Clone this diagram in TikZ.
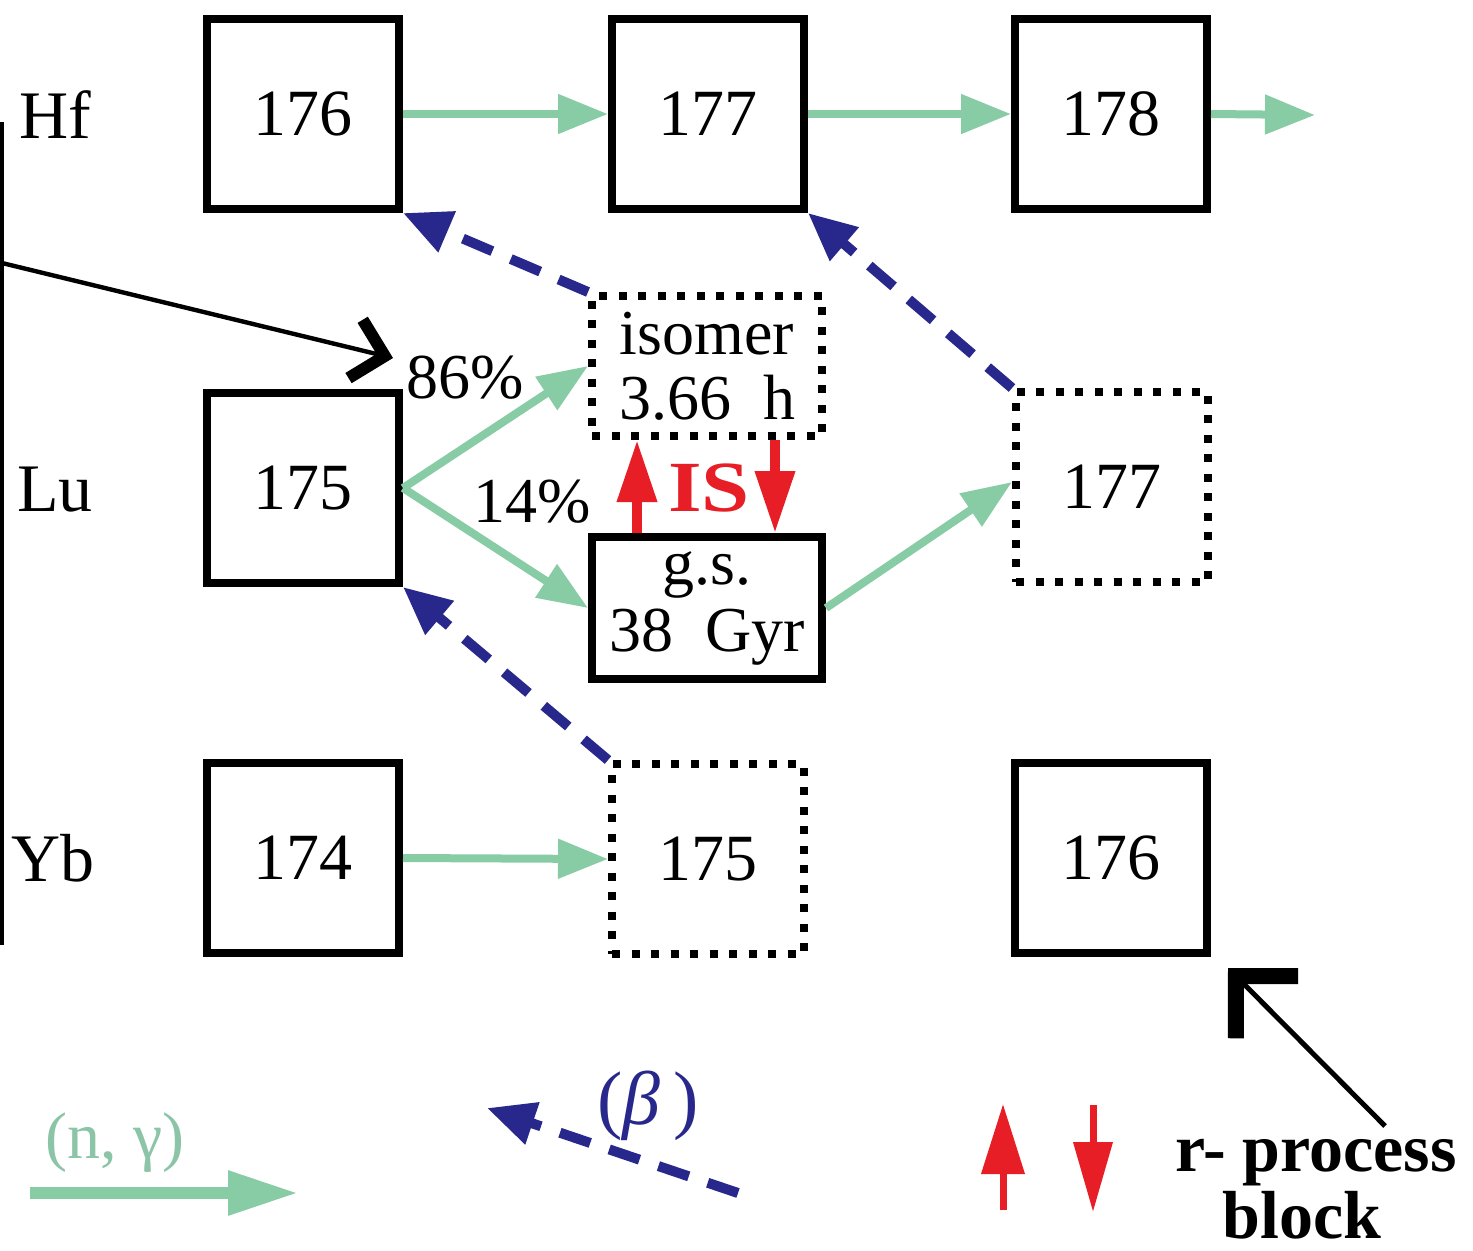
\documentclass[tikz,border=0pt]{standalone}
\usepackage{fontspec}
\setmainfont{Liberation Serif}
\usetikzlibrary{arrows.meta,calc}
\definecolor{ngreen}{RGB}{135,204,165}
\definecolor{ngtext}{RGB}{140,196,168}
\definecolor{bnavy}{RGB}{40,40,140}
\definecolor{isred}{RGB}{232,30,38}

\begin{document}
\begin{tikzpicture}[x=0.5pt,y=-0.5pt,
  nuc/.style={draw,line width=4pt,minimum width=96pt,minimum height=95pt,
    inner sep=0pt,font=\fontsize{33}{40}\selectfont},
  unstable/.style={nuc,line width=4pt,dash pattern=on 4pt off 5.75pt},
  elem/.style={font=\fontsize{34}{40}\selectfont},
  lbl/.style={font=\fontsize{32}{36}\selectfont},
  rlabel/.style={font=\fontsize{34}{38}\selectfont\bfseries,anchor=base,inner sep=0pt},
  ncap/.style={draw=ngreen,line width=4pt,-{Triangle[length=25pt,width=19pt]}},
  betadecay/.style={draw=bnavy,line width=5pt,dash pattern=on 16pt off 10pt,
    -{Triangle[length=24pt,width=21pt]}},
  isarrow/.style={draw=isred,line width=5pt,-{Triangle[length=31pt,width=19pt]}},
  pointer/.style={draw=black,line width=2.2pt,
    -{Straight Barb[length=15pt,width=30pt,line width=6pt,sharp]}}
]
\fill[white] (0,0) rectangle (1473,1250);
\useasboundingbox (0,0) rectangle (1473,1250);

% element labels
\node[elem] (lhf) at (55,115) {Hf};
\node[elem] (llu) at (55,490) {Lu};
\node[elem] (lyb) at (53,858) {Yb};

% nuclei
\node[nuc] (hf176) at (303,114) {176};
\node[nuc] (hf177) at (708,114) {177};
\node[nuc] (hf178) at (1111,114) {178};
\node[nuc] (lu175) at (303,488) {175};
\node[unstable,minimum width=115pt,minimum height=70pt,align=center,
  font=\fontsize{32}{32.5}\selectfont] (iso) at (707,366) {isomer\\3.66\ \ h};
\node[nuc,minimum width=115pt,minimum height=71pt,align=center,
  font=\fontsize{32}{33.5}\selectfont] (gs) at (707,608) {g.s.\\38\ \ Gyr};
\node[unstable] (lu177) at (1112,487) {177};
\node[nuc] (yb174) at (303,858) {174};
\node[unstable] (yb175) at (708,859) {175};
\node[nuc] (yb176) at (1111,858) {176};

% branching labels
\node[lbl] (p86) at (465,378) {86\%};
\node[lbl] (p14) at (532,502) {14\%};
\node[font=\fontsize{36}{40}\selectfont\bfseries,text=isred] (is) at (709,488)
  {\scalebox{1.2}[1]{IS}};

% neutron captures
\coordinate (hfout) at (1315,115);
\draw[ncap] (hf176.east) -- (hf177.west);
\draw[ncap] (hf177.east) -- (hf178.west);
\draw[ncap] (hf178.east) -- (hfout);
\draw[ncap] (lu175.east) -- (iso.west);
\draw[ncap] (lu175.east) -- (gs.west);
\draw[ncap] (gs.east) -- ([yshift=2.5pt]lu177.west);
\draw[ncap] (yb174.east) -- (yb175.west);

% beta decays
\draw[betadecay] (iso.north west) -- (hf176.south east);
\draw[betadecay] (lu177.north west) -- (hf177.south east);
\draw[betadecay] (yb175.north west) -- (lu175.south east);

% isomer / ground state transitions
\draw[isarrow] ([xshift=-35pt]gs.north) -- ([xshift=-35pt]iso.south);
\draw[isarrow] ([xshift=34pt]iso.south) -- ([xshift=34pt]gs.north);

% bracket and pointer to the branching
\coordinate (bt) at (2,122);
\coordinate (bb) at (2,945);
\coordinate (bp) at (2,263);
\coordinate (ptip) at (393,358);
\draw[line width=2pt] (bt) -- (bb);
\draw[pointer] (bp) -- (ptip);

% r-process block
\coordinate (rs) at (1385,1126);
\coordinate (rt) at (1228,968);
\draw[draw=black,line width=2.5pt,
  -{Straight Barb[length=22pt,width=44pt,line width=8pt,sharp]}] (rs) -- (rt);
\node[rlabel] (rp1) at (1316,1171) {r- process};
\node[rlabel] (rp2) at (1302,1238) {block};

% legend
\coordinate (lga) at (30,1193);
\coordinate (lgb) at (298,1193);
\draw[draw=ngreen,line width=6pt,-{Triangle[length=35pt,width=21pt]}] (lga) -- (lgb);
\node[font=\fontsize{33}{36}\selectfont,text=ngtext] (lgt) at (115,1143) {(n, γ)};

\coordinate (lba) at (738,1193);
\coordinate (lbb) at (487,1108);
\draw[betadecay] (lba) -- (lbb);
\node[font=\fontsize{38}{40}\selectfont,text=bnavy] (lbt) at (648,1106) {({\itshape β}\,)};

\coordinate (lua) at (1003,1210);
\coordinate (lub) at (1003,1104);
\coordinate (lda) at (1093,1105);
\coordinate (ldb) at (1093,1212);
\draw[draw=isred,line width=3.5pt,-{Triangle[length=35pt,width=21pt]}] (lua) -- (lub);
\draw[draw=isred,line width=3.5pt,-{Triangle[length=35pt,width=19pt]}] (lda) -- (ldb);
\end{tikzpicture}
\end{document}
